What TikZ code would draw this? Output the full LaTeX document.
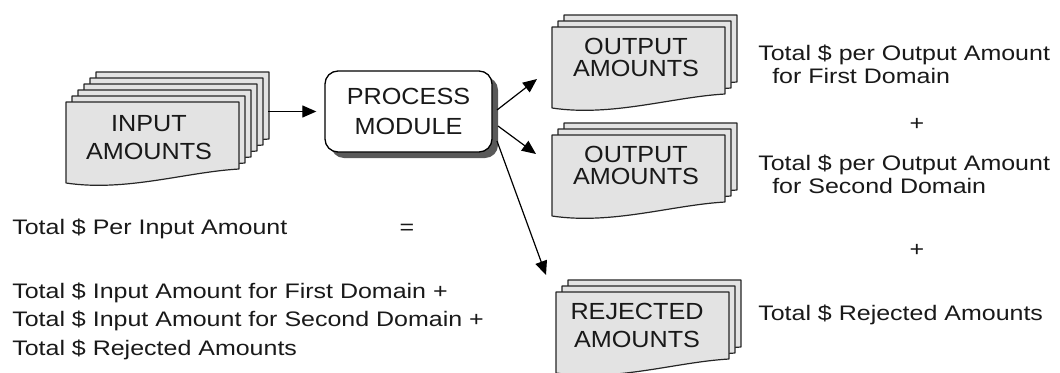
\documentclass[tikz,border=0pt]{standalone}
\usepackage{fontspec}
\setmainfont{Liberation Sans}
\newfontfamily\boxfont{Liberation Sans}[FakeStretch=1.08]
\newfontfamily\txtfont{Liberation Sans}[FakeStretch=1.19]
\usetikzlibrary{arrows.meta,shadows,calc}
\tikzset{
  sheetline/.style={draw=black!85, line width=0.9pt, fill=black!11, line join=round},
  sheet/.pic={\path[sheetline] (0,0) -- (173,0) -- (173,67) .. controls (120,70) and (60,90) .. (0,81) -- cycle;},
  boxlbl/.style={font=\boxfont\fontsize{17.5}{#1}\selectfont, text=black!90, align=center, inner sep=0pt},
  freetxt/.style={font=\txtfont\fontsize{15.75}{19}\selectfont, text=black!90, inner sep=0pt, anchor=base west},
  arr/.style={-{Triangle[length=10.5pt,width=9pt]}, line width=0.9pt, black},
  procbox/.style={draw=black, line width=1pt, fill=white, rounded corners=9.75pt,
    minimum width=125.25pt, minimum height=60.75pt, inner sep=0pt,
    drop shadow={shadow xshift=4.5pt, shadow yshift=-4.5pt, fill=black!65, opacity=1}}
}
\begin{document}
\begin{tikzpicture}[x=0.75pt,y=-0.75pt]
\clip (0,0) rectangle (1060,372);
\fill[white] (0,0) rectangle (1060,372);

% input stack
\foreach \k in {5,4,...,0} \pic at ({66+6*\k},{102-6*\k}) {sheet};
\node[boxlbl=21.5] (inl) at (149,137.5) {INPUT\\AMOUNTS};

% output stacks
\foreach \k in {2,1,0} \pic at ({552+6*\k},{27-6*\k}) {sheet};
\node[boxlbl=16.9] (o1l) at (636,57.5) {OUTPUT\\AMOUNTS};
\foreach \k in {2,1,0} \pic at ({552+6*\k},{135-6*\k}) {sheet};
\node[boxlbl=16.9] (o2l) at (636,165.5) {OUTPUT\\AMOUNTS};
\foreach \k in {2,1,0} \pic at ({556+6*\k},{292-6*\k}) {sheet};
\node[boxlbl=21.5] (rjl) at (637,325.5) {REJECTED\\AMOUNTS};

% process module
\node[procbox, boxlbl=22.5] (pm) at (408.5,111.5) {PROCESS\\MODULE};

% connectors
\coordinate (inback) at (268,111.5);
\draw[arr, shorten >=6pt] (inback) -- (pm.west);
\coordinate (p1) at (497,110);
\coordinate (p2) at (498,126);
\coordinate (p3) at (497,141);
\coordinate (o1in) at (537,79);
\coordinate (o2in) at (536,154);
\coordinate (rjin) at (546,275);
\draw[arr] (p1) -- (o1in);
\draw[arr] (p2) -- (o2in);
\draw[arr] (p3) -- (rjin);

% left texts
\node[freetxt] (t1) at (12,234) {Total \$ Per Input Amount};
\node[freetxt, anchor=base] (eq) at (407,234) {=};
\node[freetxt] (t2) at (12,298) {Total \$ Input Amount for First Domain +};
\node[freetxt] (t3) at (12,326.5) {Total \$ Input Amount for Second Domain +};
\node[freetxt] (t4) at (12,355) {Total \$ Rejected Amounts};

% right texts
\node[freetxt] (r1) at (758,60) {Total \$ per Output Amount};
\node[freetxt] (r2) at (772,83) {for First Domain};
\node[freetxt, anchor=center] (pl1) at (917,124) {+};
\node[freetxt] (r3) at (758,170) {Total \$ per Output Amount};
\node[freetxt] (r4) at (772,193) {for Second Domain};
\node[freetxt, anchor=center] (pl2) at (917,250) {+};
\node[freetxt] (r5) at (758,320) {Total \$ Rejected Amounts};
\end{tikzpicture}
\end{document}
